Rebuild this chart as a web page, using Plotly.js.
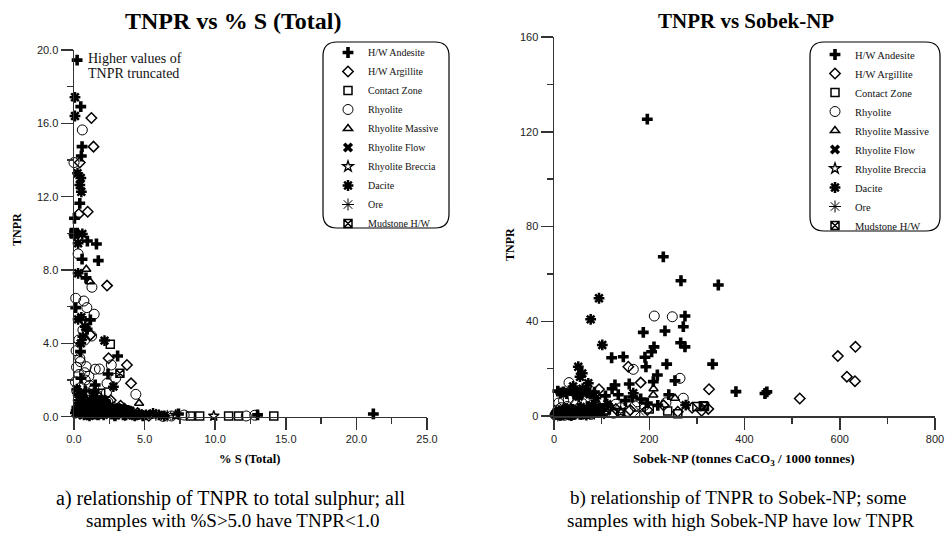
<!DOCTYPE html>
<html><head><meta charset="utf-8">
<script src="https://cdn.plot.ly/plotly-3.0.1.min.js"></script>
<style>html,body{margin:0;padding:0;background:#fff}#chart{width:947px;height:542px}</style>
</head><body><div id="chart"></div>
<script>
// ---------- DATA ----------
const categories = ['H/W Andesite','H/W Argillite','Contact Zone','Rhyolite','Rhyolite Massive','Rhyolite Flow','Rhyolite Breccia','Dacite','Ore','Mudstone H/W'];

// Left panel: %S (Total) vs TNPR
const andesiteS = [0.22,0.48,0.52,0.57,0.41,0.03,0.95,1.59,0.57,1.72,0.85,0.12,1.16,0.93,0.46,3.09,2.41,1.50,21.2,13.0,7.4,0.05,0.2,0.4,0.6,0.9,1.1,1.4,1.7,2.0,2.3,2.7,3.1,3.5,4.0,4.4,4.9,0.3,0.8,1.3,1.9,2.5,0.5,1.6,0.15,0.7,1.0,1.2,1.5,1.8,2.1,2.6,2.9,3.3,3.8];
const andesiteTnprS = [19.45,16.91,14.22,14.73,11.64,10.82,9.58,9.42,8.59,8.51,7.57,5.95,5.28,4.77,3.55,3.31,2.33,1.73,0.15,0.1,0.15,10.0,0.5,0.3,0.9,0.2,0.6,0.4,0.1,0.5,0.3,0.2,0.4,0.1,0.2,0.1,0.05,1.2,1.4,0.8,0.7,0.6,2.1,1.0,0.3,0.7,0.1,0.9,0.25,0.6,0.15,0.45,0.05,0.3,0.35];
const argilliteS = [1.23,1.38,0.41,0.34,0.97,2.34,2.45,3.75,4.04,1.16,0.5,1.2,2.0,2.9,3.6,4.5,5.3,1.7,2.6,3.3];
const argilliteTnprS = [16.29,14.73,13.86,11.06,11.18,7.15,3.19,2.82,1.82,4.46,0.3,0.5,0.2,0.4,0.1,0.2,0.05,1.1,0.9,0.6];
const contactS = [0.02,2.57,1.89,0.8,1.5,2.3,3.1,3.9,4.6,2.0,1.1,8.25,8.9,10.95,11.65,14.15];
const contactTnprS = [10.05,3.95,1.28,0.2,0.1,0.4,0.2,0.3,0.1,0.9,0.6,0.04,0.04,0.04,0.04,0.04];
const rhyoliteS = [0.59,0.0,0.29,1.27,0.12,0.70,0.91,1.43,0.63,1.25,0.34,0.75,0.41,0.18,0.87,1.50,2.64,2.95,2.34,4.38,6.3,6.9,7.8,12.2,12.8,0.1,0.2,0.3,0.35,0.5,0.6,0.7,0.8,0.9,1.0,1.1,1.2,1.3,1.5,1.6,1.7,1.9,2.0,2.2,2.4,2.6,2.8,3.0,3.3,3.6,3.9,4.2,0.15,0.45,0.75,1.05,1.4,1.8,2.3,0.25,0.55,0.95,1.25,0.4,0.65];
const rhyoliteTnprS = [15.64,13.86,8.88,7.06,6.46,6.31,5.95,5.59,4.73,4.40,4.18,4.18,3.19,2.70,2.73,2.59,2.82,2.10,1.82,1.22,0.02,0.04,0.09,0.04,0.08,1.9,1.4,0.9,2.3,1.6,1.1,0.6,2.0,1.3,0.8,1.7,0.5,1.0,0.7,1.2,0.4,0.9,0.3,0.6,0.8,0.2,0.5,0.3,0.4,0.2,0.3,0.1,3.6,3.0,2.4,2.2,1.5,2.6,1.3,0.3,0.2,0.35,0.15,0.6,0.25];
const massiveS = [0.87,1.14,4.61,0.4,1.3,2.2,3.0,3.8];
const massiveTnprS = [8.04,7.36,0.73,0.4,0.2,0.6,0.3,0.2];
const flowS = [0.6,1.6,2.5,3.4,4.1,0.03];
const flowTnprS = [0.1,0.3,0.15,0.5,0.1,10.0];
const brecciaS = [1.0,2.7,4.8,7.2,9.9];
const brecciaTnprS = [0.2,0.4,0.1,0.09,0.04];
const daciteS = [0.07,0.07,0.25,0.48,0.41,0.52,0.59,0.29,0.29,0.29,0.52,0.80,0.63,2.16,2.79,0.48,5.6,6.0,0.0,0.1,0.3,0.5,0.7,1.0,1.2,1.5,1.8,2.1,2.4,2.8,3.2,3.7,4.3,5.1,0.2,0.6,0.9,1.4,2.2,6.4,0.35,0.8,1.1,1.6,1.9,2.5,3.0,3.4,4.0,4.6];
const daciteTnprS = [17.42,16.4,13.28,13.02,12.64,12.27,9.97,9.46,7.82,5.31,5.42,4.91,4.36,4.15,1.64,4.0,0.18,0.1,9.95,0.2,0.6,0.4,0.1,0.3,0.8,0.2,0.5,0.1,0.3,0.2,0.15,0.1,0.05,0.1,1.5,1.1,0.7,1.3,0.9,0.05,0.9,0.5,0.05,0.6,0.3,0.5,0.4,0.25,0.3,0.15];
const oreS = [0.7,1.8,3.5,5.8,6.6];
const oreTnprS = [0.15,0.3,0.2,0.1,0.05];
const mudstoneS = [3.25,1.4,2.9,0.02];
const mudstoneTnprS = [2.37,0.25,0.1,9.98];

// Right panel: Sobek-NP vs TNPR
const andesiteNP = [195.9,229.5,266.6,345,275,271.5,187.5,233,266,275,210,205,121,145.5,191,333,236.6,193,217,254,208.5,158,128,382,443,447,8,14,20,27,35,42,50,58,66,75,85,108,122,135,150,165,182,196,218,241,5,25,45,70,95,12,18,30,38,55,62,80];
const andesiteTnprNP = [125.3,67.2,57.1,55.3,42.2,37.7,35.3,35.9,30.9,29.2,29.2,27.1,24.6,25.0,24.8,21.9,21.9,20.8,17.3,14.9,14.5,13.5,13.1,10.3,9.5,10.2,10.5,9.8,10.2,9.5,10.8,9.2,10.0,9.6,10.4,9.9,10.1,8.5,11.5,9.0,6.5,8.0,7.2,5.5,4.5,9.0,1.5,3.0,2.2,4.0,3.5,0.5,2.0,1.0,2.8,0.7,1.8,1.2];
const argilliteNP = [156,182,94.5,325.5,324,196,516,596,633,615,632,12,35,58,82,105,130,160,230,260,290,310];
const argilliteTnprNP = [20.8,14.1,11.3,11.3,3.0,2.5,7.4,25.3,29.2,16.6,14.7,0.5,1.5,0.8,2.0,1.2,3.0,2.5,4.5,1.8,3.5,2.2];
const contactNP = [20,45,90,140,200,238.7,313.5,260,300];
const contactTnprNP = [0.6,1.2,2.2,1.5,3.0,2.1,4.3,1.0,4.0];
const rhyoliteNP = [210.6,248.4,166.5,264.5,31.5,271.5,235,170,2,5,8,12,15,18,22,25,28,33,38,42,47,52,58,64,70,78,86,95,105,115,125,140,155,175,190,10,20,30,45,60,80,100,130];
const rhyoliteTnprNP = [42.2,41.9,19.7,15.9,14.1,7.5,5.6,4.2,0.5,1.2,2.5,0.8,3.5,1.5,0.3,2.2,4.0,1.0,2.8,0.6,1.8,3.2,0.9,2.4,1.4,0.7,3.0,1.9,2.6,3.8,1.2,3.5,2.0,6.0,4.5,5.5,6.5,7.0,4.8,5.2,4.6,6.8,5.0];
const massiveNP = [254,208.5,209,30,75,120];
const massiveTnprNP = [7.5,8.9,11.5,1.0,2.0,3.5];
const flowNP = [15,50,100];
const flowTnprNP = [0.4,0.7,1.2];
const brecciaNP = [25,65,140];
const brecciaTnprNP = [0.3,0.9,1.8];
const daciteNP = [94.5,77,101.4,51,59.4,54.6,72,166.5,276.5,3,10,17,24,32,40,48,56,63,72,80,90,100,112,60,75,88,40,52,6,14,20,28,36,44,68];
const daciteTnprNP = [49.7,40.8,30.0,20.8,18.0,16.6,13.8,9.6,4.6,0.8,2.0,1.2,3.0,0.5,2.5,1.8,3.8,0.9,2.8,4.5,1.6,3.2,5.0,11.5,9.2,7.5,12.5,8.2,1.5,0.3,2.2,1.0,0.2,1.2,0.4];
const oreNP = [8,38,85,180];
const oreTnprNP = [0.2,0.6,1.0,2.0];
const mudstoneNP = [316,60,110];
const mudstoneTnprNP = [4.0,1.5,2.5];

// ---------- STYLE ----------
const W = 947, H = 542;
const SERIF = 'Liberation Serif, Times New Roman, serif';
const SANS = 'Liberation Sans, Arial, sans-serif';
const styles = [
  {symbol:'cross', size:9, lw:0},
  {symbol:'diamond-open', size:8, lw:1.5},
  {symbol:'square-open', size:8, lw:1.5},
  {symbol:'circle-open', size:10, lw:1},
  {symbol:'triangle-up-open', size:8, lw:1.5},
  {symbol:'x', size:9, lw:0},
  {symbol:'star-open', size:8, lw:1.3},
  {symbol:'asterisk-open', size:9, lw:2.5},
  {symbol:'asterisk-open', size:10, lw:1},
  {symbol:'square-x-open', size:8, lw:1.5}
];
const leftSets = [[andesiteS,andesiteTnprS],[argilliteS,argilliteTnprS],[contactS,contactTnprS],[rhyoliteS,rhyoliteTnprS],[massiveS,massiveTnprS],[flowS,flowTnprS],[brecciaS,brecciaTnprS],[daciteS,daciteTnprS],[oreS,oreTnprS],[mudstoneS,mudstoneTnprS]];
const rightSets = [[andesiteNP,andesiteTnprNP],[argilliteNP,argilliteTnprNP],[contactNP,contactTnprNP],[rhyoliteNP,rhyoliteTnprNP],[massiveNP,massiveTnprNP],[flowNP,flowTnprNP],[brecciaNP,brecciaTnprNP],[daciteNP,daciteTnprNP],[oreNP,oreTnprNP],[mudstoneNP,mudstoneTnprNP]];

function mk(style){
  return {symbol:style.symbol, size:style.size, color:'#000', line:{color:'#000', width:style.lw}};
}
const traces = [];
categories.forEach((c,i)=>{
  traces.push({type:'scatter', mode:'markers', name:c, x:leftSets[i][0], y:leftSets[i][1], xaxis:'x', yaxis:'y', marker:mk(styles[i]), cliponaxis:false, legend:'legend', hoverinfo:'skip'});
});
categories.forEach((c,i)=>{
  traces.push({type:'scatter', mode:'markers', name:c, x:rightSets[i][0], y:rightSets[i][1], xaxis:'x2', yaxis:'y2', marker:mk(styles[i]), cliponaxis:false, legend:'legend2', hoverinfo:'skip'});
});

const fx = p => p / W;
const fy = p => 1 - p / H;
function rrect(x0,y0,x1,y1,r){
  const P=(x,y)=>fx(x).toFixed(5)+','+fy(y).toFixed(5);
  return 'M'+P(x0+r,y0)+' L'+P(x1-r,y0)+' Q'+P(x1,y0)+' '+P(x1,y0+r)+' L'+P(x1,y1-r)+' Q'+P(x1,y1)+' '+P(x1-r,y1)+
    ' L'+P(x0+r,y1)+' Q'+P(x0,y1)+' '+P(x0,y1-r)+' L'+P(x0,y0+r)+' Q'+P(x0,y0)+' '+P(x0+r,y0)+' Z';
}

const axCommon = {showgrid:false, zeroline:false, showline:true, linecolor:'#333', linewidth:1.5,
  ticks:'outside', ticklen:12, tickwidth:1.5, tickcolor:'#333', fixedrange:true,
  tickfont:{family:SANS, size:11, color:'#222'}};
const minorT = d => ({dtick:d, ticklen:6, tickwidth:1.5, tickcolor:'#333', ticks:'outside'});

const ann = (text, x, y, opts) => Object.assign({text, x:fx(x), y:fy(y), xref:'paper', yref:'paper', showarrow:false, xanchor:'center', yanchor:'middle'}, opts||{});
const capFont = {family:SERIF, size:19, color:'#000'};

const layout = {
  width:W, height:H, margin:{l:0,r:0,t:0,b:0}, paper_bgcolor:'#fff', plot_bgcolor:'rgba(0,0,0,0)',
  showlegend:true,
  xaxis: Object.assign({}, axCommon, {domain:[fx(74), fx(427)], range:[0,25], dtick:5, tickformat:'.1f', anchor:'y', minor:minorT(2.5)}),
  yaxis: Object.assign({}, axCommon, {domain:[fy(416.7), fy(50)], range:[0,20], dtick:4, tickformat:'.1f', anchor:'x', minor:minorT(2)}),
  xaxis2: Object.assign({}, axCommon, {domain:[fx(554), fx(935)], range:[0,800], dtick:200, anchor:'y2', minor:minorT(100)}),
  yaxis2: Object.assign({}, axCommon, {domain:[fy(416), fy(37)], range:[0,160], dtick:40, anchor:'x2', minor:minorT(20)}),
  legend: {x:fx(328), y:fy(38), xanchor:'left', yanchor:'top', bgcolor:'rgba(0,0,0,0)', borderwidth:0,
    font:{family:SERIF, size:10, color:'#111'}, traceorder:'normal', itemclick:false},
  legend2: {x:fx(815), y:fy(40), xanchor:'left', yanchor:'top', bgcolor:'rgba(0,0,0,0)', borderwidth:0,
    font:{family:SERIF, size:10.5, color:'#111'}, traceorder:'normal', itemclick:false},
  shapes: [
    {type:'path', xref:'paper', yref:'paper', path:rrect(323,42,449,228,14), line:{color:'#000', width:1.2}, fillcolor:'rgba(0,0,0,0)'},
    {type:'path', xref:'paper', yref:'paper', path:rrect(810,42,940,231,14), line:{color:'#000', width:1.2}, fillcolor:'rgba(0,0,0,0)'}
  ],
  annotations: [
    ann('<b>TNPR vs % S (Total)</b>', 233, 21, {font:{family:SERIF, size:24, color:'#000'}}),
    ann('<b>TNPR vs Sobek-NP</b>', 746, 21, {font:{family:SERIF, size:21, color:'#000'}}),
    ann('<b>TNPR</b>', 17, 230, {textangle:-90, font:{family:SERIF, size:12, color:'#000'}}),
    ann('<b>TNPR</b>', 510, 245, {textangle:-90, font:{family:SERIF, size:12, color:'#000'}}),
    ann('<b>% S (Total)</b>', 250, 459, {font:{family:SERIF, size:12.5, color:'#000'}}),
    ann('<b>Sobek-NP (tonnes CaCO<sub>3</sub> / 1000 tonnes)</b>', 744, 459, {font:{family:SERIF, size:13, color:'#000'}}),
    ann('Higher values of', 86, 58, {xanchor:'left', font:{family:SERIF, size:14, color:'#111'}}),
    ann('TNPR truncated', 86, 73, {xanchor:'left', font:{family:SERIF, size:14, color:'#111'}}),
    ann('a) relationship of TNPR to total sulphur; all', 230, 498, {font:{family:SERIF, size:20, color:'#000'}}),
    ann('samples with %S&gt;5.0 have TNPR&lt;1.0', 232, 520, {font:capFont}),
    ann('b) relationship of TNPR to Sobek-NP; some', 738, 498, {font:capFont}),
    ann('samples with high Sobek-NP have low TNPR', 741, 520, {font:capFont})
  ]
};
Plotly.newPlot('chart', traces, layout, {staticPlot:true, displayModeBar:false});
</script></body></html>
